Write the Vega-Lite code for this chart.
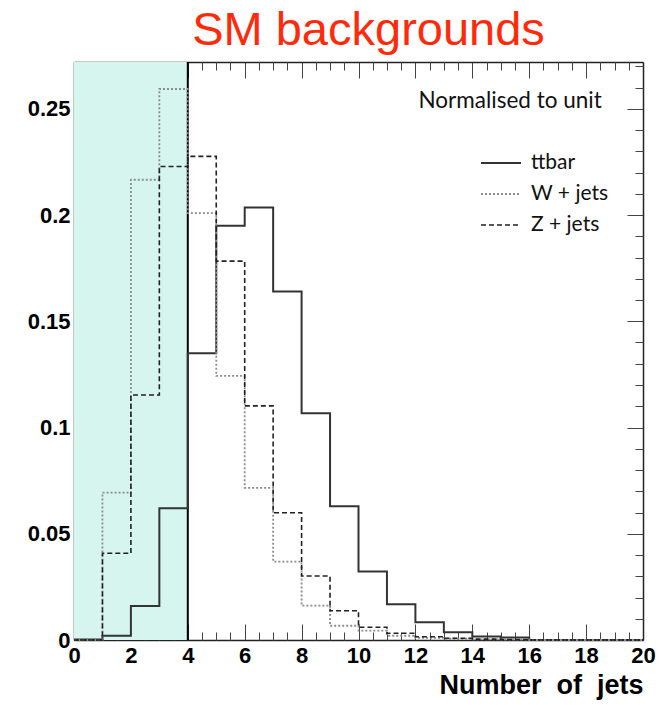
{
  "$schema": "https://vega.github.io/schema/vega-lite/v6.json",
  "width": 569,
  "height": 578,
  "autosize": {"type": "none"},
  "padding": {"left": 74, "top": 62, "right": 17, "bottom": 65},
  "background": "white",
  "title": {"text": "SM backgrounds", "color": "#ff2a0a", "font": "Liberation Sans", "fontSize": 47, "fontWeight": "normal", "anchor": "middle", "dx": 10, "dy": 47, "baseline": "alphabetic", "offset": 16},
  "config": {
    "view": {"stroke": null},
    "axis": {"grid": false, "domain": false, "labelFont": "Liberation Sans", "labelFontWeight": "bold", "labelFontSize": 22, "labelColor": "#000", "tickColor": "#444", "tickWidth": 1, "labelFlush": false, "labelOverlap": false, "zindex": 1, "domainColor": "#222", "domainWidth": 1.5}
  },
  "datasets": {
    "region": [{"from": 0, "to": 4}],
    "hist": [
      {"s": "ttbar", "n": 0, "f": 0.0002}, {"s": "ttbar", "n": 1, "f": 0.002}, {"s": "ttbar", "n": 2, "f": 0.016}, {"s": "ttbar", "n": 3, "f": 0.062}, {"s": "ttbar", "n": 4, "f": 0.135}, {"s": "ttbar", "n": 5, "f": 0.195}, {"s": "ttbar", "n": 6, "f": 0.2035}, {"s": "ttbar", "n": 7, "f": 0.164}, {"s": "ttbar", "n": 8, "f": 0.1067}, {"s": "ttbar", "n": 9, "f": 0.063}, {"s": "ttbar", "n": 10, "f": 0.0322}, {"s": "ttbar", "n": 11, "f": 0.0168}, {"s": "ttbar", "n": 12, "f": 0.0083}, {"s": "ttbar", "n": 13, "f": 0.0036}, {"s": "ttbar", "n": 14, "f": 0.0016}, {"s": "ttbar", "n": 15, "f": 0.0012}, {"s": "ttbar", "n": 16, "f": 0}, {"s": "ttbar", "n": 17, "f": 0}, {"s": "ttbar", "n": 18, "f": 0}, {"s": "ttbar", "n": 19, "f": 0}, {"s": "ttbar", "n": 20, "f": 0},
      {"s": "W + jets", "n": 0, "f": 0}, {"s": "W + jets", "n": 1, "f": 0.0694}, {"s": "W + jets", "n": 2, "f": 0.2166}, {"s": "W + jets", "n": 3, "f": 0.2593}, {"s": "W + jets", "n": 4, "f": 0.2009}, {"s": "W + jets", "n": 5, "f": 0.1243}, {"s": "W + jets", "n": 6, "f": 0.0716}, {"s": "W + jets", "n": 7, "f": 0.0369}, {"s": "W + jets", "n": 8, "f": 0.0162}, {"s": "W + jets", "n": 9, "f": 0.0067}, {"s": "W + jets", "n": 10, "f": 0.0044}, {"s": "W + jets", "n": 11, "f": 0.002}, {"s": "W + jets", "n": 12, "f": 0.001}, {"s": "W + jets", "n": 13, "f": 0.0006}, {"s": "W + jets", "n": 14, "f": 0.0003}, {"s": "W + jets", "n": 15, "f": 0.0002}, {"s": "W + jets", "n": 16, "f": 0}, {"s": "W + jets", "n": 17, "f": 0}, {"s": "W + jets", "n": 18, "f": 0}, {"s": "W + jets", "n": 19, "f": 0}, {"s": "W + jets", "n": 20, "f": 0},
      {"s": "Z + jets", "n": 0, "f": 0}, {"s": "Z + jets", "n": 1, "f": 0.0408}, {"s": "Z + jets", "n": 2, "f": 0.1153}, {"s": "Z + jets", "n": 3, "f": 0.2228}, {"s": "Z + jets", "n": 4, "f": 0.2276}, {"s": "Z + jets", "n": 5, "f": 0.1783}, {"s": "Z + jets", "n": 6, "f": 0.1102}, {"s": "Z + jets", "n": 7, "f": 0.0599}, {"s": "Z + jets", "n": 8, "f": 0.0301}, {"s": "Z + jets", "n": 9, "f": 0.0138}, {"s": "Z + jets", "n": 10, "f": 0.006}, {"s": "Z + jets", "n": 11, "f": 0.0032}, {"s": "Z + jets", "n": 12, "f": 0.0015}, {"s": "Z + jets", "n": 13, "f": 0.0008}, {"s": "Z + jets", "n": 14, "f": 0.0004}, {"s": "Z + jets", "n": 15, "f": 0.0002}, {"s": "Z + jets", "n": 16, "f": 0}, {"s": "Z + jets", "n": 17, "f": 0}, {"s": "Z + jets", "n": 18, "f": 0}, {"s": "Z + jets", "n": 19, "f": 0}, {"s": "Z + jets", "n": 20, "f": 0}
    ]
  },
  "resolve": {"axis": {"x": "independent", "y": "independent"}},
  "layer": [
    {
      "data": {"name": "region"},
      "mark": {"type": "rect", "color": "#d6f5ef"},
      "encoding": {
        "x": {"field": "from", "type": "quantitative", "scale": {"domain": [0, 20], "nice": false, "zero": false},
          "axis": {"orient": "bottom", "values": [0, 2, 4, 6, 8, 10, 12, 14, 16, 18, 20], "ticks": false, "tickSize": 0, "labelPadding": 5, "title": "Number\u00a0\u00a0of\u00a0\u00a0jets", "titleFont": "Liberation Sans", "titleFontSize": 27, "titleFontWeight": "bold", "titleColor": "#000", "titleAnchor": "end", "titleBaseline": "alphabetic", "titleY": 53}},
        "x2": {"field": "to"}
      }
    },
    {
      "data": {"name": "region"},
      "mark": {"type": "rule", "color": "#000", "strokeWidth": 2},
      "encoding": {
        "x": {"field": "to", "type": "quantitative", "scale": {"domain": [0, 20], "nice": false, "zero": false},
          "axis": {"orient": "bottom", "values": [0, 2, 4, 6, 8, 10, 12, 14, 16, 18, 20], "labels": false, "tickSize": -16, "domain": true, "title": null}}
      }
    },
    {
      "data": {"name": "hist"},
      "mark": {"type": "line", "interpolate": "step-after"},
      "encoding": {
        "x": {"field": "n", "type": "quantitative", "scale": {"domain": [0, 20], "nice": false, "zero": false},
          "axis": {"orient": "bottom", "values": [0.5, 1, 1.5, 2.5, 3, 3.5, 4.5, 5, 5.5, 6.5, 7, 7.5, 8.5, 9, 9.5, 10.5, 11, 11.5, 12.5, 13, 13.5, 14.5, 15, 15.5, 16.5, 17, 17.5, 18.5, 19, 19.5], "labels": false, "tickSize": -8, "title": null}},
        "y": {"field": "f", "type": "quantitative", "scale": {"domain": [0, 0.272], "nice": false},
          "axis": {"orient": "left", "values": [0, 0.05, 0.1, 0.15, 0.2, 0.25], "format": "~g", "ticks": false, "tickSize": 0, "labelPadding": 4, "title": null}},
        "color": {"field": "s", "type": "nominal", "scale": {"domain": ["ttbar", "W + jets", "Z + jets"], "range": ["#333333", "#8c8c8c", "#222222"]},
          "legend": {"title": null, "orient": "none", "legendX": 406, "legendY": 80, "symbolType": "stroke", "symbolSize": 1600, "symbolStrokeWidth": 1.6, "labelFont": "Lato", "labelFontSize": 21, "labelColor": "#111", "labelOffset": 9, "rowPadding": -9, "padding": 0}},
        "strokeDash": {"field": "s", "type": "nominal", "scale": {"domain": ["ttbar", "W + jets", "Z + jets"], "range": [[1, 0], [2, 2], [5, 3]]},
          "legend": {"title": null, "orient": "none", "legendX": 406, "legendY": 80, "symbolType": "stroke", "symbolSize": 1600, "symbolStrokeWidth": 1.6, "labelFont": "Lato", "labelFontSize": 21, "labelColor": "#111", "labelOffset": 9, "rowPadding": -9, "padding": 0}},
        "strokeWidth": {"field": "s", "type": "ordinal", "scale": {"domain": ["ttbar", "W + jets", "Z + jets"], "range": [2, 1.6, 1.6]}, "legend": null}
      }
    },
    {
      "data": {"values": [{}]},
      "mark": {"type": "text", "text": "Normalised to unit", "font": "Lato", "fontSize": 22.5, "align": "center", "baseline": "middle", "color": "#111"},
      "encoding": {
        "x": {"datum": 15.33, "type": "quantitative", "scale": {"domain": [0, 20], "nice": false, "zero": false},
          "axis": {"orient": "top", "values": [0, 2, 4, 6, 8, 10, 12, 14, 16, 18, 20], "labels": false, "tickSize": -16, "domain": true, "title": null}},
        "y": {"datum": 0.2538, "type": "quantitative", "scale": {"domain": [0, 0.272], "nice": false},
          "axis": {"orient": "left", "values": [0, 0.05, 0.1, 0.15, 0.2, 0.25], "labels": false, "tickSize": -16, "domain": true, "title": null}}
      }
    },
    {
      "data": {"values": [{}]},
      "mark": {"type": "point", "opacity": 0},
      "encoding": {
        "x": {"datum": 0, "type": "quantitative", "scale": {"domain": [0, 20], "nice": false, "zero": false},
          "axis": {"orient": "top", "values": [0.5, 1, 1.5, 2.5, 3, 3.5, 4.5, 5, 5.5, 6.5, 7, 7.5, 8.5, 9, 9.5, 10.5, 11, 11.5, 12.5, 13, 13.5, 14.5, 15, 15.5, 16.5, 17, 17.5, 18.5, 19, 19.5], "labels": false, "tickSize": -8, "title": null}},
        "y": {"datum": 0, "type": "quantitative", "scale": {"domain": [0, 0.272], "nice": false},
          "axis": {"orient": "left", "values": [0.01, 0.02, 0.03, 0.04, 0.06, 0.07, 0.08, 0.09, 0.11, 0.12, 0.13, 0.14, 0.16, 0.17, 0.18, 0.19, 0.21, 0.22, 0.23, 0.24, 0.26, 0.27], "labels": false, "tickSize": -8, "title": null}}
      }
    },
    {
      "data": {"values": [{}]},
      "mark": {"type": "point", "opacity": 0},
      "encoding": {
        "x": {"datum": 0, "type": "quantitative", "scale": {"domain": [0, 20], "nice": false, "zero": false}, "axis": null},
        "y": {"datum": 0, "type": "quantitative", "scale": {"domain": [0, 0.272], "nice": false},
          "axis": {"orient": "right", "values": [0, 0.05, 0.1, 0.15, 0.2, 0.25], "labels": false, "tickSize": -16, "domain": true, "title": null}}
      }
    },
    {
      "data": {"values": [{}]},
      "mark": {"type": "point", "opacity": 0},
      "encoding": {
        "x": {"datum": 0, "type": "quantitative", "scale": {"domain": [0, 20], "nice": false, "zero": false}, "axis": null},
        "y": {"datum": 0, "type": "quantitative", "scale": {"domain": [0, 0.272], "nice": false},
          "axis": {"orient": "right", "values": [0.01, 0.02, 0.03, 0.04, 0.06, 0.07, 0.08, 0.09, 0.11, 0.12, 0.13, 0.14, 0.16, 0.17, 0.18, 0.19, 0.21, 0.22, 0.23, 0.24, 0.26, 0.27], "labels": false, "tickSize": -8, "title": null}}
      }
    }
  ]
}
